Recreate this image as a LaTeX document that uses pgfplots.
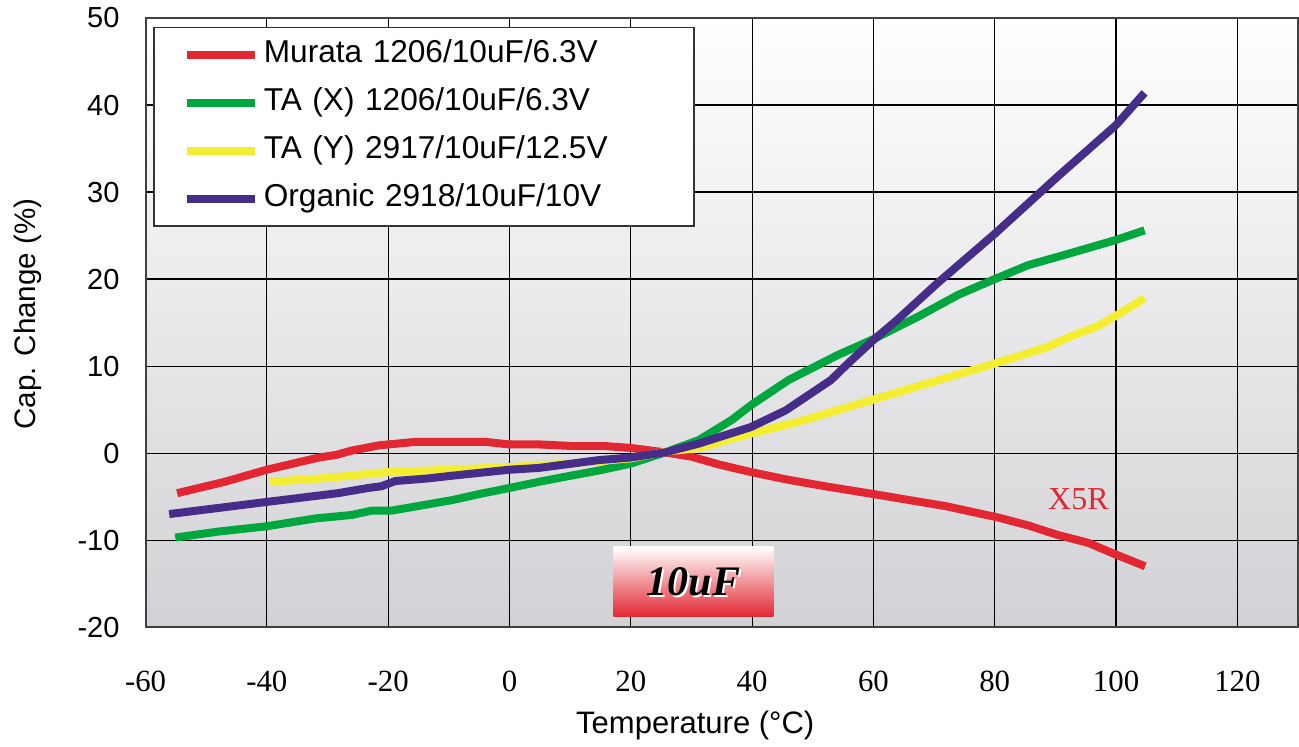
\documentclass[border=0pt]{standalone}
\usepackage{fontspec}
\setmainfont{Liberation Sans}
\newfontfamily\timesfont{Liberation Serif}
\usepackage{pgfplots}
\pgfplotsset{compat=1.18}
\definecolor{cred}{RGB}{226,39,50}
\definecolor{cgreen}{RGB}{0,166,62}
\definecolor{cyellow}{RGB}{243,238,50}
\definecolor{cpurple}{RGB}{70,45,138}
\definecolor{bggray}{RGB}{210,210,214}
\begin{document}
\begin{tikzpicture}
\begin{axis}[name=ax, scale only axis, width=576pt, height=304.5pt,
 xmin=-60, xmax=130, ymin=-20, ymax=50,
 xtick={-60,-40,...,120}, ytick={-20,-10,...,50},
 xticklabels={-60,-40,-20,0,20,40,60,80,100,120},
 yticklabels={-20,-10,0,10,20,30,40,50},
 grid=major, major grid style={black, line width=0.6pt},
 axis line style={black!75, line width=1pt},
 tick align=inside, major tick length=3pt, tick style={black, line width=0.6pt},
 axis background/.style={top color=white, bottom color=bggray},
 xticklabel style={font=\timesfont\fontsize{15.4}{18}\selectfont, anchor=center, yshift=-27pt},
 yticklabel style={font=\fontsize{14.5}{17}\selectfont, anchor=east, xshift=-9.5pt},
 xlabel={Temperature (°C)},
 ylabel={Cap. Change (\%)},
 xlabel style={font=\fontsize{15.5}{18}\selectfont, at={(axis description cs:0.477,-0.161)}, anchor=center},
 ylabel style={font=\fontsize{14.8}{17}\selectfont, at={(axis description cs:-0.1024,0.514)}, anchor=center},
 legend style={at={(0,1)}, anchor=north west, xshift=3.75pt, yshift=-4.5pt,
   draw=black!80, line width=0.75pt, fill=white, inner xsep=14.5pt, inner ysep=1.5pt,
   font=\fontsize{15.8}{18}\selectfont, row sep=0pt,
   nodes={inner xsep=2.5pt, inner ysep=4.5pt, text width=198pt, text height=11.5pt, text depth=3.5pt, anchor=west}},
 legend cell align=left,
 legend image code/.code={\draw[#1, line width=4pt] (0pt,0pt) -- (34pt,0pt);},
 every axis plot/.append style={line width=4pt, line join=round},
]
\addplot[cred] coordinates {
(-54.8,-4.6) (-47,-3.3) (-40,-1.9) (-31.4,-0.5) (-28.6,-0.2) (-26,0.3) (-21.5,0.9) (-15.5,1.3) (-4,1.3) (0,1.0) (5,1.0) (11,0.8) (16,0.8) (20,0.6) (25.5,0.1) (30,-0.4) (34.5,-1.3) (40,-2.2) (45.5,-3.0) (52,-3.8) (60,-4.7) (66,-5.4) (72,-6.1) (80.6,-7.4) (85.5,-8.3) (90.4,-9.4) (95.4,-10.3) (99.8,-11.6) (104.8,-13.0)};
\addlegendentry{Murata 1206/10uF/6.3V}
\addplot[cgreen] coordinates {
(-55.1,-9.7) (-47.9,-9.0) (-40,-8.4) (-32,-7.5) (-26,-7.1) (-22.7,-6.6) (-19.4,-6.6) (-9.5,-5.4) (-5,-4.7) (0,-4.0) (4.8,-3.3) (10,-2.6) (14.7,-2.0) (20,-1.2) (25.7,0.1) (31.2,1.5) (36.6,3.8) (40,5.6) (46,8.4) (54.2,11.3) (60,13.1) (67.4,15.7) (74,18.2) (80,20.0) (85.5,21.6) (92.1,22.9) (100,24.5) (104.7,25.6)};
\addlegendentry{TA (X) 1206/10uF/6.3V}
\addplot[cyellow] coordinates {
(-39.5,-3.3) (-31,-2.9) (-20.5,-2.2) (-10,-1.9) (0,-1.6) (4.8,-1.4) (11.4,-1.1) (20,-0.6) (26,0.2) (31.2,0.6) (40,2.3) (47.6,3.6) (59.7,6.1) (67.4,7.7) (80,10.3) (88.7,12.2) (92.1,13.3) (97,14.6) (100,15.8) (104.7,17.8)};
\addlegendentry{TA (Y) 2917/10uF/12.5V}
\addplot[cpurple] coordinates {
(-56.1,-7.0) (-40,-5.6) (-28.3,-4.6) (-23.3,-4.0) (-21.1,-3.8) (-18.8,-3.2) (-13.4,-2.9) (-9.6,-2.6) (0,-1.9) (4.8,-1.7) (14.7,-0.8) (20,-0.5) (25.7,0.1) (31.2,1.1) (39.8,3.0) (45.5,4.9) (53,8.4) (55.8,10.3) (60,13.0) (63.9,15.3) (70.5,19.5) (80,25.2) (90.4,31.8) (100,37.7) (104.7,41.4)};
\addlegendentry{Organic 2918/10uF/10V}
\node[text=cred, font=\timesfont\fontsize{16}{19}\selectfont] at (axis cs:93.8,-5.3) {X5R};
\node[minimum width=80pt, minimum height=35pt, inner sep=0pt, top color=white, middle color=cred!22, bottom color=cred] at (axis cs:30.35,-14.8) {};
\node[text=white, font=\timesfont\bfseries\itshape\fontsize{21}{24}\selectfont, xshift=0.9pt, yshift=-0.9pt] at (axis cs:30.35,-14.8) {10uF};
\node[text=black, font=\timesfont\bfseries\itshape\fontsize{21}{24}\selectfont] at (axis cs:30.35,-14.8) {10uF};
\end{axis}
\pgfresetboundingbox
\path[use as bounding box] ([xshift=-72.75pt,yshift=-59.5pt]ax.south west) rectangle ([xshift=0.5pt,yshift=9pt]ax.north east);
\end{tikzpicture}
\end{document}
